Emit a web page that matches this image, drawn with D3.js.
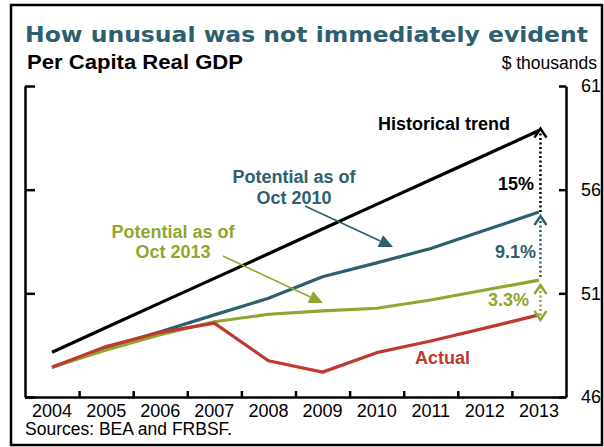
<!DOCTYPE html>
<html lang="en">
<head>
<meta charset="UTF-8">
<title>Per Capita Real GDP</title>
<script src="https://cdnjs.cloudflare.com/ajax/libs/d3/7.8.5/d3.min.js"></script>
<style>
body { margin: 0; background: #fff; }
svg { display: block; font-family: "Liberation Sans", Arial, sans-serif; }
.axis path, .axis line { stroke: #000; stroke-width: 2.5px; }
.axis text { font-size: 18px; fill: #000; font-family: "Liberation Sans", Arial, sans-serif; }
.lbl { font-weight: bold; font-size: 18px; }
</style>
</head>
<body>
<div id="chart"></div>
<script>
var years = [2004, 2005, 2006, 2007, 2008, 2009, 2010, 2011, 2012, 2013];
var historical = [48.16, 49.35, 50.54, 51.72, 52.91, 54.1, 55.29, 56.48, 57.66, 58.85];
var oct2010 = [47.44, 48.37, 49.15, 49.96, 50.76, 51.8, 52.47, 53.16, 54.04, 54.92];
var oct2013 = [47.44, 48.27, 49.0, 49.63, 49.99, 50.15, 50.28, 50.68, 51.16, 51.64];
var actual = [47.44, 48.43, 49.12, 49.56, 47.75, 47.2, 48.14, 48.7, 49.32, 49.96];
var yTicks = [46, 51, 56, 61];

var teal = '#2d5f6f', green = '#8fa630', red = '#c0392f';

var W = 604, H = 447;
var svg = d3.select('#chart').append('svg').attr('width', W).attr('height', H);

// outer frame
svg.append('rect').attr('x', 11).attr('y', 5).attr('width', 591).attr('height', 440)
  .attr('fill', 'none').attr('stroke', '#000').attr('stroke-width', 2.5);

svg.append('text').attr('x', 25).attr('y', 41.5)
  .attr('font-family', '"DejaVu Sans", Verdana, sans-serif').attr('font-weight', 'bold')
  .attr('font-size', 22).attr('fill', teal)
  .attr('textLength', 563).attr('lengthAdjust', 'spacingAndGlyphs')
  .text('How unusual was not immediately evident');

svg.append('text').attr('x', 27).attr('y', 69).attr('font-weight', 'bold')
  .attr('font-size', 20).attr('textLength', 216).attr('lengthAdjust', 'spacingAndGlyphs')
  .text('Per Capita Real GDP');

svg.append('text').attr('x', 597).attr('y', 68.5).attr('text-anchor', 'end')
  .attr('font-size', 17.5).text('$ thousands');

svg.append('text').attr('x', 25).attr('y', 435).attr('font-size', 17.5)
  .text('Sources: BEA and FRBSF.');

// plot box (named pl/pr/pt/pb: "top" clashes with window.top)
var pl = 25, pr = 566, pt = 86, pb = 397;
var x = d3.scaleBand().domain(years).range([pl, pr]);
var xc = function (yr) { return x(yr) + x.bandwidth() / 2; };
var xb = d3.scaleLinear().domain([0, years.length]).range([pl, pr]);
var y = d3.scaleLinear().domain([46, 61]).range([pb, pt]);

// left axis (ticks only)
svg.append('g').attr('class', 'axis').attr('transform', 'translate(' + pl + ',0)')
  .call(d3.axisLeft(y).tickValues(yTicks).tickSize(-10).tickSizeOuter(0).tickFormat(''));

// right axis with labels
svg.append('g').attr('class', 'axis').attr('transform', 'translate(' + pr + ',0)')
  .call(d3.axisRight(y).tickValues(yTicks).tickSize(-7).tickSizeOuter(0).tickPadding(15));

// bottom axis: ticks between years
svg.append('g').attr('class', 'axis').attr('transform', 'translate(0,' + pb + ')')
  .call(d3.axisBottom(xb).tickValues(d3.range(1, years.length)).tickSize(-6).tickSizeOuter(0).tickFormat(''));

// year labels
var yl = svg.append('g').attr('class', 'axis').attr('transform', 'translate(0,' + pb + ')')
  .call(d3.axisBottom(x).tickSize(0).tickPadding(7));
yl.select('.domain').remove();

var line = d3.line().x(function (d, i) { return xc(years[i]); }).y(function (d) { return y(d); });

var series = [
  { v: historical, c: '#000' },
  { v: oct2010, c: teal },
  { v: oct2013, c: green },
  { v: actual, c: red }
];
svg.selectAll('path.series').data(series).enter().append('path')
  .attr('class', 'series')
  .attr('d', function (d) { return line(d.v); })
  .attr('fill', 'none').attr('stroke', function (d) { return d.c; })
  .attr('stroke-width', 3.2).attr('stroke-linejoin', 'round');

// dotted gap arrows at 2013
var last = years.length - 1, gx = xc(years[last]) + 1.5;
function chevron(yA, dir, col) {
  svg.append('path')
    .attr('d', 'M' + (gx - 6) + ',' + (yA + 9 * dir) + 'L' + gx + ',' + yA + 'L' + (gx + 6) + ',' + (yA + 9 * dir))
    .attr('fill', 'none').attr('stroke', col).attr('stroke-width', 2.5);
}
function dotted(y1, y2, col) {
  svg.append('line').attr('x1', gx).attr('x2', gx).attr('y1', y1).attr('y2', y2)
    .attr('stroke', col).attr('stroke-width', 2.5).attr('stroke-dasharray', '2,2.5');
}
dotted(y(oct2010[last]), y(historical[last]), '#000');
chevron(y(historical[last]) - 2, 1, '#000');
dotted(y(oct2013[last]) - 3, y(oct2010[last]) + 4, teal);
chevron(y(oct2010[last]) + 4, 1, teal);
dotted(y(actual[last]) + 5, y(oct2013[last]) + 5, green);
chevron(y(oct2013[last]) + 5, 1, green);
chevron(y(actual[last]) + 5, -1, green);

// pointer arrows
function pointer(x1, y1, x2, y2, col) {
  var a = Math.atan2(y2 - y1, x2 - x1), L = 14, w = 6.5;
  var bx = x2 - L * Math.cos(a), by = y2 - L * Math.sin(a);
  svg.append('line').attr('x1', x1).attr('y1', y1).attr('x2', bx).attr('y2', by)
    .attr('stroke', col).attr('stroke-width', 1.6);
  svg.append('path').attr('fill', col)
    .attr('d', 'M' + x2 + ',' + y2 + 'L' + (bx + w * Math.sin(a)) + ',' + (by - w * Math.cos(a)) +
      'L' + (bx - w * Math.sin(a)) + ',' + (by + w * Math.cos(a)) + 'Z');
}
pointer(305, 206, 393, 247, teal);
pointer(223, 256, 323, 303, green);

// labels
function label(tx, ty, anchor, col, txt) {
  svg.append('text').attr('class', 'lbl').attr('x', tx).attr('y', ty)
    .attr('text-anchor', anchor).attr('fill', col).text(txt);
}
label(378, 129.5, 'start', '#000', 'Historical trend');
label(294, 183, 'middle', teal, 'Potential as of');
label(294, 203.5, 'middle', teal, 'Oct 2010');
label(173, 237.5, 'middle', green, 'Potential as of');
label(173, 257.5, 'middle', green, 'Oct 2013');
label(534, 189.5, 'end', '#000', '15%');
label(536, 257.5, 'end', teal, '9.1%');
label(529, 306, 'end', green, '3.3%');
label(415, 363.5, 'start', red, 'Actual');
</script>
</body>
</html>
